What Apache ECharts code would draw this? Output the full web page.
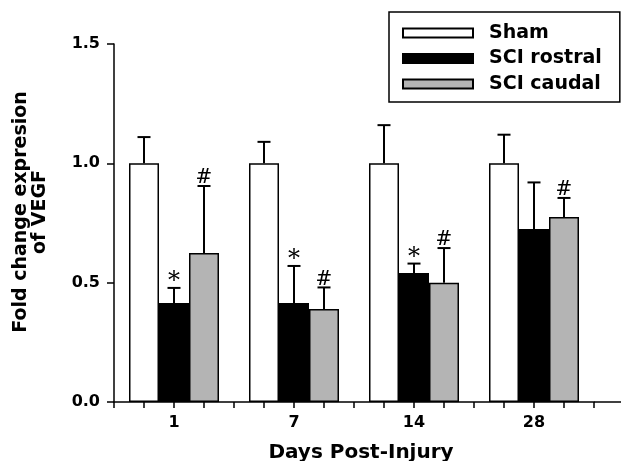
<!DOCTYPE html>
<html>
<head>
<meta charset="utf-8">
<script src="https://cdn.jsdelivr.net/npm/echarts@6/dist/echarts.min.js"></script>
<style>
  html, body { margin: 0; padding: 0; background: #fff; }
  #chart { width: 621px; height: 461px; }
</style>
</head>
<body>
<div id="chart"></div>
<script>
const days = ["1", "7", "14", "28"];
const seriesNames = ["Sham", "SCI rostral", "SCI caudal"];

const sham = [1.0, 1.0, 1.0, 1.0];
const shamErrTop = [1.11, 1.09, 1.16, 1.12];
const shamMarks = ["", "", "", ""];

const rostral = [0.415, 0.415, 0.54, 0.725];
const rostralErrTop = [0.478, 0.57, 0.58, 0.92];
const rostralMarks = ["*", "*", "*", ""];

const caudal = [0.624, 0.39, 0.5, 0.775];
const caudalErrTop = [0.905, 0.48, 0.645, 0.855];
const caudalMarks = ["#", "#", "#", "#"];

const yTicks = [0, 0.5, 1.0, 1.5];

const colors = ["#ffffff", "#000000", "#b4b4b4"];
const font = "DejaVu Sans";

// tick ruler: a tick at every group edge and every bar centre (4 per day)
const rulerTicks = [];
for (let i = 0; i <= days.length * 4; i++) rulerTicks.push(i);

const chart = echarts.init(document.getElementById("chart"), null, { renderer: "canvas" });

// error bars (upper only) + significance marks
function errSeries(k, values, tops, marks) {
  return {
    name: seriesNames[k] + " err",
    type: "custom",
    xAxisIndex: 0,
    yAxisIndex: 0,
    z: 5,
    silent: true,
    data: values.map((v, i) => [i, v, tops[i], marks[i]]),
    renderItem: (params, api) => {
      const band = api.size([1, 0])[0];
      const barW = (band * 0.75) / 3;
      const off = (k - 1) * barW;
      const base = api.coord([api.value(0), api.value(1)]);
      const top = api.coord([api.value(0), api.value(2)]);
      const x = base[0] + off;
      const children = [
        {
          type: "line",
          shape: { x1: x, y1: base[1], x2: x, y2: top[1] },
          style: { stroke: "#000", lineWidth: 2 }
        },
        {
          type: "line",
          shape: { x1: x - 6.5, y1: top[1], x2: x + 6.5, y2: top[1] },
          style: { stroke: "#000", lineWidth: 2 }
        }
      ];
      const mark = marks[params.dataIndex];
      if (mark) {
        children.push({
          type: "text",
          style: {
            x: x,
            y: top[1] + (mark === "*" ? 6 : 2),
            text: mark,
            fill: "#000",
            font: (mark === "*" ? "24px" : "20px") + " 'DejaVu Serif'",
            align: "center",
            verticalAlign: "bottom"
          }
        });
      }
      return { type: "group", children: children };
    }
  };
}

const barStyle = (c) => ({ color: c, borderColor: "#000", borderWidth: 1.5 });
const tickStyle = { color: "#000", width: 1.5 };

const option = {
  backgroundColor: "#fff",
  animation: false,
  legend: {
    data: seriesNames,
    orient: "vertical",
    left: 389,
    top: 12,
    padding: [11, 18, 8, 13],
    itemGap: 5.5,
    itemWidth: 70,
    itemHeight: 9,
    icon: "rect",
    borderColor: "#000",
    borderWidth: 1.5,
    backgroundColor: "#fff",
    textStyle: {
      fontFamily: font,
      fontWeight: "bold",
      fontSize: 19,
      color: "#000",
      lineHeight: 20,
      padding: [0, 0, 0, 11]
    }
  },
  grid: { left: 114, top: 44, width: 480, height: 358, outerBoundsMode: "none" },
  // the bottom axis line runs on past the last tick to the frame edge
  graphic: [{
    type: "line",
    silent: true,
    shape: { x1: 594, y1: 402, x2: 621, y2: 402 },
    style: { stroke: "#000", lineWidth: 1.5 }
  }],
  xAxis: [
    {
      type: "category",
      data: days,
      name: "Days Post-Injury",
      nameLocation: "middle",
      nameGap: 41,
      nameTextStyle: {
        fontFamily: font,
        fontWeight: "bold",
        fontSize: 20,
        color: "#000",
        padding: [0, 0, 0, 14]
      },
      axisLine: { show: false },
      axisTick: { show: false },
      axisLabel: {
        margin: 13,
        fontFamily: font,
        fontWeight: "bold",
        fontSize: 16,
        color: "#000"
      }
    },
    {
      type: "value",
      position: "bottom",
      min: rulerTicks[0],
      max: rulerTicks[rulerTicks.length - 1],
      axisLine: { onZero: false, lineStyle: tickStyle },
      axisTick: { show: true, length: 6, lineStyle: tickStyle, customValues: rulerTicks },
      axisLabel: { show: false },
      splitLine: { show: false }
    }
  ],
  yAxis: {
    type: "value",
    min: yTicks[0],
    max: yTicks[yTicks.length - 1],
    interval: 0.5,
    name: "Fold change expresion\nof VEGF",
    nameLocation: "middle",
    nameRotate: 90,
    nameGap: 64,
    nameTextStyle: {
      fontFamily: font,
      fontWeight: "bold",
      fontSize: 19,
      lineHeight: 19,
      color: "#000",
      padding: [0, 0, 0, 22]
    },
    axisLine: { show: true, lineStyle: tickStyle },
    axisTick: { show: true, length: 7, lineStyle: tickStyle },
    axisLabel: {
      margin: 14,
      fontFamily: font,
      fontWeight: "bold",
      fontSize: 16,
      color: "#000",
      formatter: (v) => v.toFixed(1)
    },
    splitLine: { show: false }
  },
  series: [
    {
      name: seriesNames[0],
      type: "bar",
      data: sham,
      barGap: "0%",
      barCategoryGap: "25%",
      itemStyle: barStyle(colors[0])
    },
    {
      name: seriesNames[1],
      type: "bar",
      data: rostral,
      barGap: "0%",
      barCategoryGap: "25%",
      itemStyle: barStyle(colors[1])
    },
    {
      name: seriesNames[2],
      type: "bar",
      data: caudal,
      barGap: "0%",
      barCategoryGap: "25%",
      itemStyle: barStyle(colors[2])
    },
    errSeries(0, sham, shamErrTop, shamMarks),
    errSeries(1, rostral, rostralErrTop, rostralMarks),
    errSeries(2, caudal, caudalErrTop, caudalMarks)
  ]
};

chart.setOption(option);
</script>
</body>
</html>
